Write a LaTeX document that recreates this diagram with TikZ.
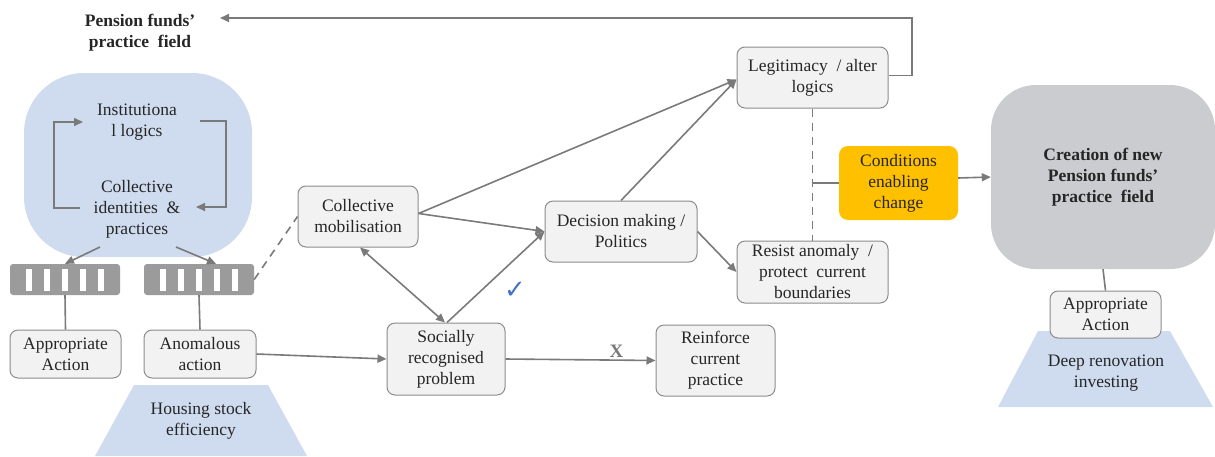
\documentclass[tikz,border=0pt]{standalone}
\usepackage{fontspec}
\setmainfont{Liberation Serif}
\newfontfamily\symfont{DejaVu Sans}
\usetikzlibrary{arrows.meta}
\definecolor{boxfill}{HTML}{F2F2F2}
\definecolor{boxline}{HTML}{8C8C8C}
\definecolor{linkgray}{HTML}{7A7A7A}
\definecolor{paleblue}{HTML}{CFDCEF}
\definecolor{bargray}{HTML}{9B9B9B}
\definecolor{fieldgray}{HTML}{CBCCCF}
\definecolor{amber}{HTML}{FFC000}
\definecolor{tickblue}{HTML}{4472C4}
\definecolor{inktext}{HTML}{262626}
\begin{document}
\begin{tikzpicture}[x=1pt,y=-1pt,
  every node/.style={font=\fontsize{17.5}{21}\selectfont, text=inktext, align=center, inner sep=0pt},
  actbox/.style={draw=boxline, fill=boxfill, line width=1pt, rounded corners=8pt},
  barbox/.style={fill=bargray, rounded corners=3pt, minimum width=110pt, minimum height=31pt},
  link/.style={draw=linkgray, line width=1.6pt},
  arr/.style={link, -{Triangle[length=9pt,width=8pt]}},
  arrboth/.style={link, {Triangle[length=9pt,width=8pt]}-{Triangle[length=9pt,width=8pt]}},
  dashlink/.style={draw=linkgray, line width=1.6pt, dash pattern=on 8pt off 6pt},
]
\useasboundingbox (0,0) rectangle (1215,456);

% base shapes (trapezoids under the action boxes)
\fill[paleblue] (134,385) -- (268,385) -- (307,456) -- (95,456) -- cycle;
\node (housing) at (201,421) {Housing stock\\efficiency};
\fill[paleblue] (1038,331) -- (1170,331) -- (1213,407) -- (998,407) -- cycle;
\node (deep) at (1106,373) {Deep renovation\\investing};

% existing field
\node (title) at (140,33) {\bfseries Pension funds'\\\bfseries practice\ \ field};
\node[fill=paleblue, rounded corners=60pt, minimum width=228pt, minimum height=184pt] (blob) at (138,165) {};
\node (inst) at (137,122) {Institutiona\\l logics};
\node (collid) at (137,209) {Collective\\identities\ \ \&\\practices};

\coordinate (loopLa) at (80,208);
\coordinate (loopLb) at (54,122);
\coordinate (loopLc) at (83,122);
\coordinate (loopRa) at (200,121);
\coordinate (loopRb) at (226,207);
\coordinate (loopRc) at (196,207);
\draw[arr] (loopLa) -| (loopLb) -- (loopLc);
\draw[arr] (loopRa) -| (loopRb) -- (loopRc);

% striped filters
\node[barbox] (bar1) at (65,279.5) {};
\node[barbox] (bar2) at (199,279.5) {};
\foreach \b in {bar1,bar2}{
  \foreach \dx in {-36,-18,0,18,36}{
    \fill[white] ([xshift=\dx pt-2.75pt,yshift=11pt]\b.center) rectangle ([xshift=\dx pt+2.75pt,yshift=-11pt]\b.center);
  }
}
\coordinate (blobL) at (100,247);
\coordinate (blobR) at (176,247);
\draw[arr] (blobL) -- (bar1.north);
\draw[arr] (blobR) -- ([xshift=17pt]bar2.north);

% action boxes
\node[actbox, minimum width=111pt, minimum height=48pt] (appL) at (65.5,354) {Appropriate\\Action};
\node[actbox, minimum width=112pt, minimum height=48pt] (anom) at (200,354) {Anomalous\\action};
\draw[link] (bar1.south) -- (appL.north);
\draw[link] (bar2.south) -- (anom.north);

% process boxes
\node[actbox, minimum width=120pt, minimum height=61pt] (colmob) at (358,216.5) {Collective\\mobilisation};
\node[actbox, minimum width=118pt, minimum height=72pt] (soc) at (446,359) {Socially\\recognised\\problem};
\node[actbox, minimum width=152pt, minimum height=61pt] (dec) at (621,231.5) {Decision making /\\Politics};
\node[actbox, minimum width=119pt, minimum height=71pt] (reinf) at (715.5,360.5) {Reinforce\\current\\practice};
\node[actbox, minimum width=151pt, minimum height=61pt] (legit) at (812.5,77.5) {Legitimacy\ \ / alter\\logics};
\node[actbox, minimum width=151pt, minimum height=62pt] (resist) at (812.5,272) {Resist anomaly\ \ /\\protect\ \ current\\boundaries};
\node[fill=amber, rounded corners=9pt, minimum width=119pt, minimum height=74pt] (cond) at (898.5,183) {Conditions\\enabling\\change};

% new field
\node[fill=fieldgray, rounded corners=45pt, minimum width=224pt, minimum height=184pt] (creation) at (1103,177) {\bfseries Creation of new\\\bfseries Pension funds'\\\bfseries practice\ \ field};
\node[actbox, minimum width=111pt, minimum height=47pt] (appR) at (1105.5,314.5) {Appropriate\\Action};
\draw[link] (creation.south) -- (appR.north);

% connectors
\draw[dashlink] (bar2.east) -- (colmob.west);
\draw[arr] (anom.east) -- (soc.west);
\draw[arrboth] ([xshift=2pt]colmob.south) -- ([xshift=-1pt]soc.north);
\draw[arr] ([xshift=1pt]soc.north) -- (dec.west);
\draw[arr] ([yshift=3pt]colmob.east) -- (dec.west);
\draw[arr] ([yshift=3pt]colmob.east) -- ([yshift=-2pt]legit.west);
\draw[arr] (dec.north) -- ([yshift=-2pt]legit.west);
\draw[arr] (dec.east) -- (resist.west);
\draw[arr] (soc.east) -- node[pos=0.74, above=2pt, font=\fontsize{19}{19}\selectfont\bfseries, text=linkgray] (xmark) {X} (reinf.west);
\node[text=tickblue, font=\symfont\fontsize{26}{26}\selectfont] (tick) at (515,290) {✓};

\coordinate (turnTop) at (912,18);
\coordinate (titleTip) at (220,18);
\draw[arr] ([yshift=2pt]legit.east) -| (turnTop) -- (titleTip);

\draw[dashlink] (legit.south) -- (resist.north);
\draw[link] (legit.south |- cond.west) -- (cond.west);
\draw[arr] ([yshift=5pt]cond.east) -- (creation.west);
\end{tikzpicture}
\end{document}
